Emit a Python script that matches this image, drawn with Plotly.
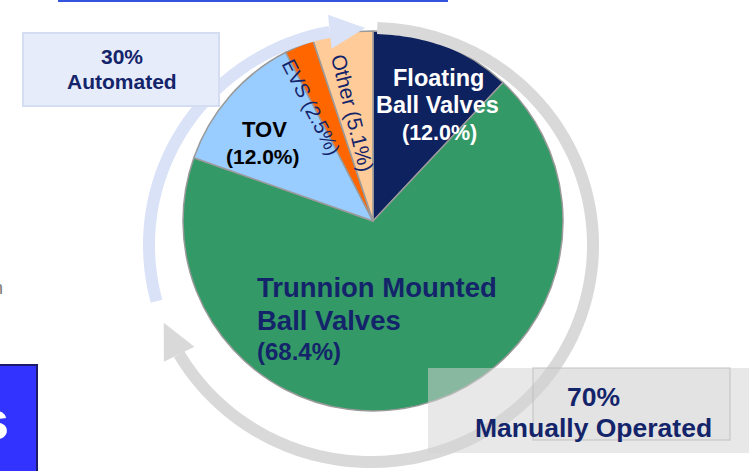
import math
import plotly.graph_objects as go

# ---------------- data ----------------
categories = ["Floating Ball Valves", "Trunnion Mounted Ball Valves", "TOV", "EVS", "Other"]
values = [12.0, 68.4, 12.0, 2.5, 5.1]
slice_colors = ["#0F2260", "#339966", "#99CCFF", "#FF6600", "#FFCC99"]
split_labels = ["Automated", "Manually Operated"]
split_values = [30, 70]

W, H = 749, 471
NAVY = "#14246A"
FONT = "Liberation Sans, Arial, sans-serif"


def px(x):
    return x / W


def py(y):
    return 1 - y / H


fig = go.Figure()

# pie: centre (373,221) px, radius 190 px
fig.add_trace(go.Pie(
    labels=categories, values=values, sort=False, direction="clockwise", rotation=0,
    marker=dict(colors=slice_colors, line=dict(color="#9A9A9A", width=1.5)),
    textinfo="none", hoverinfo="label+percent", showlegend=False,
    domain=dict(x=[px(183), px(563)], y=[py(411), py(31)]),
))

shapes = []

# top blue line and left blue box (slide fragments)
shapes.append(dict(type="rect", xref="paper", yref="paper", x0=px(58), x1=px(448), y0=py(2), y1=py(0),
                   fillcolor="#3355DD", line=dict(width=0)))
shapes.append(dict(type="rect", xref="paper", yref="paper", x0=px(-3), x1=px(37), y0=py(476), y1=py(365),
                   fillcolor="#3333FF", line=dict(color="#1C1C6B", width=2)))

# ---- arcs (automated / manual split) ----
CX, CY, RX, RY = 371, 245, 222, 217


def pt(theta_deg):
    t = math.radians(theta_deg)
    return CX + RX * math.sin(t), CY - RY * math.cos(t)


def arc_path(a0, a1, step=1.0):
    n = max(2, int(abs(a1 - a0) / step) + 1)
    pts = [pt(a0 + (a1 - a0) * i / (n - 1)) for i in range(n)]
    return "M " + " L ".join(f"{px(x):.5f},{py(y):.5f}" for x, y in pts)


def arrow_head(base_deg, tip_deg, half_w=17):
    bx, by = pt(base_deg)
    tx, ty = pt(tip_deg)
    dx, dy = tx - bx, ty - by
    L = math.hypot(dx, dy)
    nx, ny = -dy / L, dx / L
    p1 = (bx + nx * half_w, by + ny * half_w)
    p2 = (bx - nx * half_w, by - ny * half_w)
    return (f"M {px(p1[0]):.5f},{py(p1[1]):.5f} L {px(tx):.5f},{py(ty):.5f} "
            f"L {px(p2[0]):.5f},{py(p2[1]):.5f} Z")


total = sum(split_values)
auto_span = 360 * split_values[0] / total
boundary = 360 - auto_span  # degrees clockwise from 12 o'clock
head_len = 9.2
arc_cols = ["#DAE2F8", "#D9D9D9"]

# automated arc (lavender), boundary -> top
a_start, a_tip = boundary + 3.0, 360 - 1.5
shapes.append(dict(type="path", xref="paper", yref="paper", path=arc_path(a_start, a_tip - head_len),
                   line=dict(color=arc_cols[0], width=12)))
shapes.append(dict(type="path", xref="paper", yref="paper", path=arrow_head(a_tip - head_len, a_tip),
                   fillcolor=arc_cols[0], line=dict(width=0)))
# manual arc (grey), top -> boundary
m_start, m_tip = 1.6, boundary - 3.0
shapes.append(dict(type="path", xref="paper", yref="paper", path=arc_path(m_start, m_tip - head_len),
                   line=dict(color=arc_cols[1], width=12)))
shapes.append(dict(type="path", xref="paper", yref="paper", path=arrow_head(m_tip - head_len, m_tip),
                   fillcolor=arc_cols[1], line=dict(width=0)))

# boxes
shapes.append(dict(type="rect", xref="paper", yref="paper", x0=px(23), x1=px(219), y0=py(106), y1=py(33),
                   fillcolor="#E7ECFA", line=dict(color="#D5DDF3", width=2)))
shapes.append(dict(type="rect", xref="paper", yref="paper", x0=px(428), x1=px(752), y0=py(453), y1=py(368),
                   fillcolor="rgba(212,212,212,0.53)", line=dict(width=0)))
shapes.append(dict(type="rect", xref="paper", yref="paper", x0=px(533), x1=px(730), y0=py(440), y1=py(368),
                   fillcolor="rgba(200,200,200,0.12)", line=dict(color="rgba(190,190,190,0.6)", width=1.5)))

annotations = []


def add(text, x, y, size, color, bold=True, anchor="center", angle=0):
    annotations.append(dict(
        text=f"<b>{text}</b>" if bold else text, x=px(x), y=py(y), xref="paper", yref="paper",
        xanchor=anchor, yanchor="middle", showarrow=False, textangle=angle,
        font=dict(family=FONT, size=size, color=color)))


pct = [f"({v:.1f}%)" for v in values]

# Floating Ball Valves
add("Floating", 438, 78, 23.5, "white")
add("Ball Valves", 437, 105, 23.5, "white")
add(pct[0], 439, 133, 21.5, "white")
# TOV
add(categories[2], 264, 130, 22, "black")
add(pct[2], 263, 157, 21, "black")
# EVS / Other (rotated)
add(f"{categories[3]} {pct[3]}", 311, 107, 20, NAVY, bold=False, angle=63)
add(f"{categories[4]} {pct[4]}", 352, 113, 21, NAVY, bold=False, angle=76)
# Trunnion
add("Trunnion Mounted", 255, 287, 27.5, NAVY, anchor="left")
add("Ball Valves", 255, 320, 27.5, NAVY, anchor="left")
add(pct[1], 255, 351, 24, NAVY, anchor="left")
# split boxes
add(f"{split_values[0]}%", 122, 57, 21, NAVY)
add(split_labels[0], 122, 82, 21, NAVY)
add(f"{split_values[1]}%", 593, 397, 26.5, NAVY)
add(split_labels[1], 593, 428, 26.5, NAVY)
# slide fragments (cut at the left edge in the reference)
add("n", 5, 288, 18, "#777777", bold=False, anchor="right")
add("s", 11, 420, 54, "white", anchor="right")

fig.update_layout(
    width=W, height=H, margin=dict(l=0, r=0, t=0, b=0),
    paper_bgcolor="white", plot_bgcolor="white",
    shapes=shapes, annotations=annotations,
)

fig.write_html("out.html", config={"displayModeBar": False},
               post_script="document.body.style.margin='0';document.body.style.overflow='hidden';")
